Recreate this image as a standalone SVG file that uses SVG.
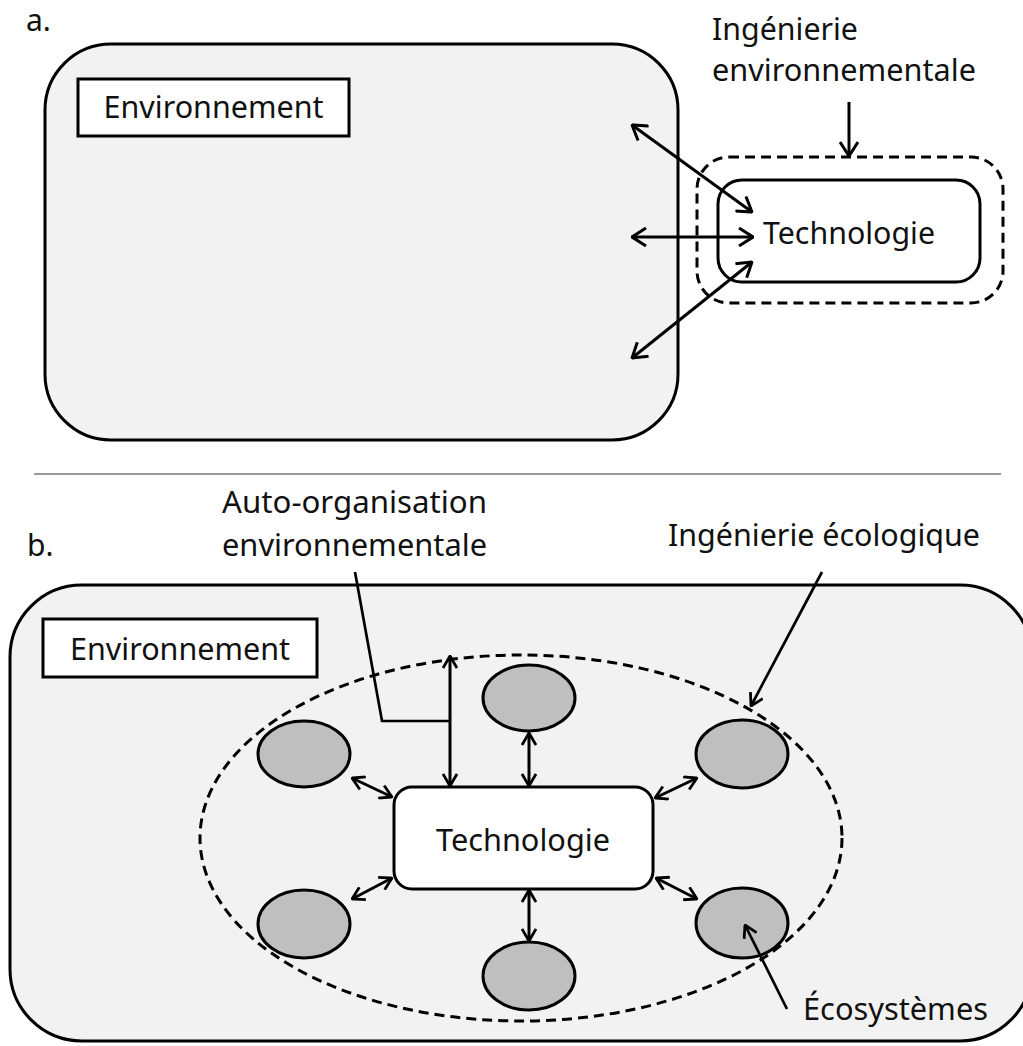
<svg xmlns="http://www.w3.org/2000/svg" width="1023" height="1046" viewBox="0 0 1023 1046">
<style>
  text { font-family: "Noto Sans", "Open Sans", sans-serif; fill: #111; font-size: 30px; }
  .box { fill: #f2f2f2; stroke: #000; stroke-width: 3; }
  .white { fill: #fff; stroke: #000; stroke-width: 3; }
  .dash { fill: none; stroke: #000; stroke-width: 3; stroke-dasharray: 10 6; }
  .eco { fill: #bfbfbf; stroke: #000; stroke-width: 3; }
  .arr { fill: none; stroke: #000; stroke-width: 3; }
  .lead { fill: none; stroke: #000; stroke-width: 2.7; }
</style>
<defs>
  <marker id="ha" viewBox="0 0 16 20" refX="15" refY="10" markerWidth="16" markerHeight="20" markerUnits="userSpaceOnUse" orient="auto-start-reverse">
    <path d="M1,1 L15,10 L1,19" fill="none" stroke="#000" stroke-width="3"/>
  </marker>
  <marker id="hb" viewBox="0 0 14 16" refX="13" refY="8" markerWidth="14" markerHeight="16" markerUnits="userSpaceOnUse" orient="auto-start-reverse">
    <path d="M1,1 L13,8 L1,15" fill="none" stroke="#000" stroke-width="2.8"/>
  </marker>
</defs>

<!-- Panel a -->
<text x="26" y="31">a.</text>
<g id="env-a">
  <rect class="box" x="45" y="44" width="633" height="396" rx="66" ry="66"/>
  <rect class="white" x="78" y="79" width="271" height="57"/>
  <text x="213.5" y="118" text-anchor="middle" textLength="220" lengthAdjust="spacingAndGlyphs">Environnement</text>
</g>
<g id="ing-env-a">
  <rect class="dash" x="697" y="157" width="306" height="146" rx="32" ry="32"/>
  <text x="712" y="40" textLength="146" lengthAdjust="spacingAndGlyphs">Ingénierie</text>
  <text x="712" y="81" textLength="264" lengthAdjust="spacingAndGlyphs">environnementale</text>
</g>
<g id="tech-a">
  <rect class="white" x="718" y="180" width="262" height="102" rx="24" ry="24"/>
  <text x="849" y="244" text-anchor="middle" textLength="172" lengthAdjust="spacingAndGlyphs">Technologie</text>
</g>

<line x1="34" y1="474" x2="1001" y2="474" stroke="#999" stroke-width="2"/>

<!-- Panel b -->
<text x="27" y="556">b.</text>
<g id="env-b">
  <rect class="box" x="10" y="585" width="1022" height="456" rx="72" ry="72"/>
  <rect class="white" x="43" y="619" width="274" height="58"/>
  <text x="180" y="660" text-anchor="middle" textLength="220" lengthAdjust="spacingAndGlyphs">Environnement</text>
</g>
<g id="ing-eco-b">
  <ellipse class="dash" cx="521" cy="838" rx="321" ry="183"/>
  <text x="668" y="546" textLength="312" lengthAdjust="spacingAndGlyphs">Ingénierie écologique</text>
</g>
<g id="auto-org-b">
  <text x="222" y="513" textLength="265" lengthAdjust="spacingAndGlyphs">Auto-organisation</text>
  <text x="222" y="556" textLength="265" lengthAdjust="spacingAndGlyphs">environnementale</text>
</g>
<g id="tech-b">
  <rect class="white" x="394" y="787" width="259" height="102" rx="18" ry="18"/>
  <text x="523" y="851" text-anchor="middle" textLength="174" lengthAdjust="spacingAndGlyphs">Technologie</text>
</g>
<g id="eco-top"><ellipse class="eco" cx="529" cy="698" rx="46" ry="33"/></g>
<g id="eco-ul"><ellipse class="eco" cx="304" cy="754" rx="46" ry="33"/></g>
<g id="eco-ll"><ellipse class="eco" cx="304" cy="924" rx="46" ry="34"/></g>
<g id="eco-ur"><ellipse class="eco" cx="742" cy="754" rx="46" ry="34"/></g>
<g id="eco-lr"><ellipse class="eco" cx="742" cy="923" rx="46" ry="35"/></g>
<g id="eco-bot"><ellipse class="eco" cx="529" cy="976" rx="46" ry="34"/></g>
<g id="ecosystemes-label">
  <text x="803" y="1020" textLength="185" lengthAdjust="spacingAndGlyphs">Écosystèmes</text>
</g>

<!-- Connectors -->
<g id="connectors">
  <!-- panel a -->
  <line class="arr" x1="849" y1="102" x2="849" y2="156" marker-end="url(#ha)"/>
  <line class="arr" x1="632" y1="125" x2="752" y2="212" marker-start="url(#ha)" marker-end="url(#ha)"/>
  <line class="arr" x1="632" y1="237" x2="753" y2="237" marker-start="url(#ha)" marker-end="url(#ha)"/>
  <line class="arr" x1="632" y1="358" x2="752" y2="262" marker-start="url(#ha)" marker-end="url(#ha)"/>
  <!-- panel b -->
  <line class="arr" x1="450" y1="656" x2="450" y2="786" marker-start="url(#hb)" marker-end="url(#hb)"/>
  <polyline class="lead" points="355,572 382,721 450,721"/>
  <line class="arr" x1="529" y1="733" x2="529" y2="786" marker-start="url(#hb)" marker-end="url(#hb)"/>
  <line class="arr" x1="529" y1="890" x2="529" y2="941" marker-start="url(#hb)" marker-end="url(#hb)"/>
  <line class="arr" x1="352" y1="778" x2="392" y2="797" marker-start="url(#hb)" marker-end="url(#hb)"/>
  <line class="arr" x1="352" y1="899" x2="392" y2="878" marker-start="url(#hb)" marker-end="url(#hb)"/>
  <line class="arr" x1="655" y1="798" x2="697" y2="778" marker-start="url(#hb)" marker-end="url(#hb)"/>
  <line class="arr" x1="656" y1="878" x2="697" y2="899" marker-start="url(#hb)" marker-end="url(#hb)"/>
  <line class="lead" x1="822" y1="572" x2="751" y2="706" marker-end="url(#hb)"/>
  <line class="lead" x1="787" y1="1009" x2="745" y2="925" marker-end="url(#hb)"/>
</g>
</svg>
